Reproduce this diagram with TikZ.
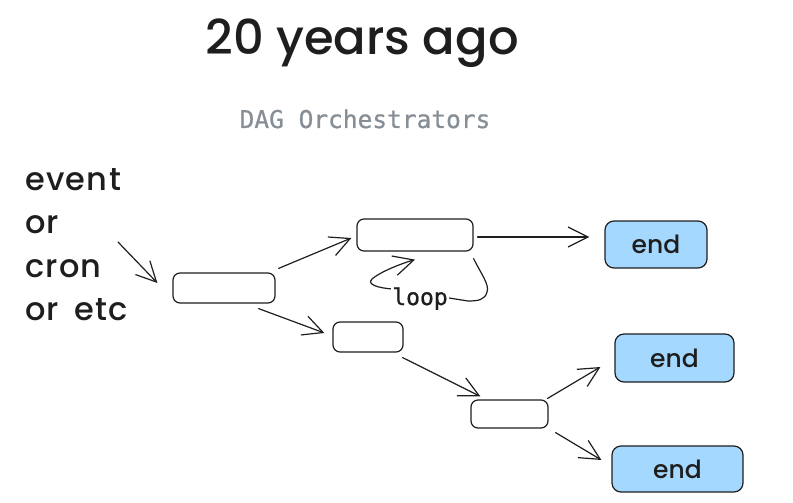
\documentclass[tikz,border=0pt]{standalone}
\usepackage{fontspec}
\setmainfont{Poppins}[UprightFont=* Medium]
\newfontfamily\monofam{DejaVu Sans Mono}[FakeBold=0.8]
\newfontfamily\handfam{Poppins}[UprightFont=* Medium, LetterSpace=4, WordSpace=1.6]
\usetikzlibrary{arrows.meta}
\definecolor{ink}{HTML}{1E1E1E}
\definecolor{endblue}{HTML}{A5D8FF}
\definecolor{subgray}{HTML}{868E96}
\tikzset{
  taskbox/.style={draw=ink, line width=1.2pt, rounded corners=7pt, fill=white, inner sep=0pt},
  endbox/.style={draw=ink, line width=1.2pt, rounded corners=9pt, fill=endblue, inner sep=0pt,
    font=\fontsize{25}{28}\selectfont, text=ink},
  flow/.style={draw=ink, line width=1.2pt, line cap=round,
    -{Straight Barb[length=20pt, width=20pt, line width=1.2pt]}},
  sidetext/.style={anchor=base west, inner sep=0pt, font=\handfam\fontsize{32}{36}\selectfont, text=ink}
}
\begin{document}
\begin{tikzpicture}[x=1pt, y=-1pt]
  \useasboundingbox (0,0) rectangle (793,503);

  % headings
  \node[anchor=base, inner sep=0pt, font=\fontsize{48}{52}\selectfont, text=ink] (title) at (362,55) {20 years ago};
  \node[anchor=base, inner sep=0pt, font=\monofam\fontsize{24.5}{28}\selectfont, text=subgray] (subtitle) at (365,128) {DAG Orchestrators};

  % trigger list
  \node[sidetext] (ev) at (25,190) {event};
  \node[sidetext] (or1) at (25,233) {or};
  \node[sidetext] (cron) at (25,277) {cron};
  \node[sidetext] (oretc) at (25,320) {or etc};

  % tasks
  \node[taskbox, minimum width=102pt, minimum height=30pt] (A) at (224,288) {};
  \node[taskbox, minimum width=116pt, minimum height=32pt] (B) at (415,235) {};
  \node[taskbox, minimum width=70pt, minimum height=30pt] (C) at (368,337) {};
  \node[taskbox, minimum width=77pt, minimum height=28pt] (D) at (509.5,414) {};

  % terminal states
  \node[endbox, minimum width=102pt, minimum height=47pt] (E1) at (656,244.5) {end};
  \node[endbox, minimum width=119pt, minimum height=48pt] (E2) at (674.5,358) {end};
  \node[endbox, minimum width=131pt, minimum height=46pt] (E3) at (677.5,469) {end};

  % edges
  \coordinate (trig) at (118,242);
  \draw[flow] (trig) -- ([shift={(-15,-5)}]A.west);
  \draw[flow] ([shift={(3,-4)}]A.north east) -- ([shift={(-5,3)}]B.west);
  \draw[flow] ([shift={(-17,5)}]A.south east) -- ([shift={(-8,-4)}]C.west);
  \draw[flow] ([shift={(4,2)}]B.east) -- ([shift={(-15,-7.5)}]E1.west);
  \draw[flow] ([shift={(-1,5)}]C.south east) -- ([shift={(10,-3)}]D.north west);
  \draw[flow] ([shift={(-1,-1)}]D.north east) -- ([shift={(-14,9)}]E2.west);
  \draw[flow] ([shift={(7,4)}]D.south east) -- ([shift={(-10,-9)}]E3.west);

  % self loop on B, labelled
  \draw[flow] ([shift={(0,7)}]B.south east)
      .. controls (480,272) and (490,285) .. (487,292)
      .. controls (485,300) and (478,301) .. (468,301)
      -- (392,289)
      .. controls (380,288) and (366,285) .. (372,279)
      .. controls (380,272) and (400,264) .. ([shift={(0,8)}]B.south);
  \node[anchor=base, fill=white, inner sep=1pt, font=\monofam\fontsize{23}{26}\selectfont, text=ink] (looplbl) at (420,305) {loop};
\end{tikzpicture}
\end{document}
